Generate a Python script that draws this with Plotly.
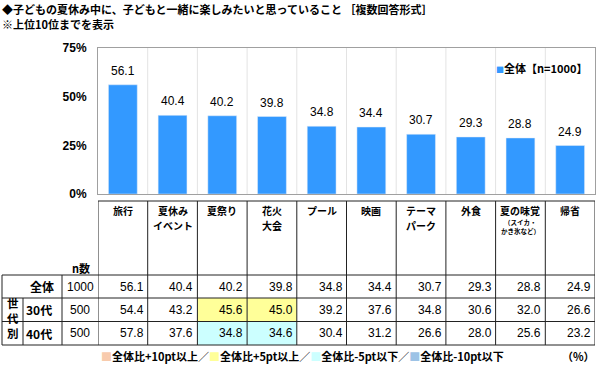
import plotly.graph_objects as go

# ---------------- data ----------------
categories = ["旅行", "夏休みイベント", "夏祭り", "花火大会", "プール", "映画",
              "テーマパーク", "外食", "夏の味覚", "帰省"]
header_labels = ["旅行", "夏休み<br>イベント", "夏祭り", "花火<br>大会", "プール", "映画",
                 "テーマ<br>パーク", "外食", "夏の味覚", "帰省"]
header_sub = ["", "", "", "", "", "", "", "", "（スイカ・<br>かき氷など）", ""]
overall = [56.1, 40.4, 40.2, 39.8, 34.8, 34.4, 30.7, 29.3, 28.8, 24.9]
age30 = [54.4, 43.2, 45.6, 45.0, 39.2, 37.6, 34.8, 30.6, 32.0, 26.6]
age40 = [57.8, 37.6, 34.8, 34.6, 30.4, 31.2, 26.6, 28.0, 25.6, 23.2]
row_names = ["全体", "30代", "40代"]
row_n = [1000, 500, 500]
y_ticks = [0, 25, 50, 75]
y_tick_text = ["0%", "25%", "50%", "75%"]
series_name = "全体【n=1000】"
title1 = "◆子どもの夏休み中に、子どもと一緒に楽しみたいと思っていること ［複数回答形式］"
title2 = "※上位10位までを表示"

# ---------------- styling ----------------
W, H = 600, 366
BAR = "#3399FF"
C_P10 = "#F8CBAD"
C_P5 = "#FFFF99"
C_M5 = "#CCFFFF"
C_M10 = "#9DC3E6"
FONT = "Liberation Sans, Arial, Noto Sans CJK JP, sans-serif"
JFONT = "Noto Sans CJK JP, Liberation Sans, sans-serif"


def px(x):
    return x / W


def py(y):
    return 1 - y / H


def txt(x, y, text, size, family=JFONT, bold=True, xanchor="center", xref="paper",
        yref="paper", xshift=0):
    f = dict(family=family, size=size, color="#000")
    if bold:
        f["weight"] = "bold"
    return dict(xref=xref, yref=yref, x=x, y=y, text=text, showarrow=False,
                xanchor=xanchor, yanchor="middle", xshift=xshift, borderpad=0, font=f)


fig = go.Figure()
fig.add_trace(go.Bar(x=categories, y=overall, marker_color=BAR, name=series_name,
                     showlegend=False, hoverinfo="x+y"))

n = len(categories)
shapes = []
ann = []

# vertical separators inside plot
for i in range(n - 1):
    shapes.append(dict(type="line", xref="x", yref="y", x0=i + 0.5, x1=i + 0.5, y0=0, y1=75,
                       line=dict(color="#E3E3E3", width=1), layer="below"))

# value labels above bars
for i, v in enumerate(overall):
    ann.append(dict(xref="x", yref="y", x=i, y=v, text=f"{v:.1f}", showarrow=False,
                    xanchor="center", yanchor="bottom", yshift=5,
                    font=dict(family=FONT, size=12, color="#000")))

# ---------------- table ----------------
T_HEAD = 201
ROW_Y = [275, 298, 321.5, 345]
LINE = dict(color="#222", width=1)

shapes.append(dict(type="line", xref="paper", yref="paper", x0=px(98), x1=px(595),
                   y0=py(T_HEAD), y1=py(T_HEAD), line=LINE))
for i in range(n + 1):
    shapes.append(dict(type="line", xref="x", yref="paper", x0=i - 0.5, x1=i - 0.5,
                       y0=py(T_HEAD), y1=py(ROW_Y[-1]), line=LINE))
for yy in ROW_Y:
    shapes.append(dict(type="line", xref="paper", yref="paper", x0=px(2), x1=px(595),
                       y0=py(yy), y1=py(yy), line=LINE))
shapes.append(dict(type="line", xref="paper", yref="paper", x0=px(2), x1=px(2),
                   y0=py(ROW_Y[0]), y1=py(ROW_Y[-1]), line=LINE))
shapes.append(dict(type="line", xref="paper", yref="paper", x0=px(62), x1=px(62),
                   y0=py(ROW_Y[0]), y1=py(ROW_Y[-1]), line=LINE))
shapes.append(dict(type="line", xref="paper", yref="paper", x0=px(23), x1=px(23),
                   y0=py(ROW_Y[1]), y1=py(ROW_Y[-1]), line=LINE))

# highlight cells (rule from legend: difference vs overall)
rows = [overall, age30, age40]
for r in (1, 2):
    for i in range(n):
        d = rows[r][i] - overall[i]
        col = None
        if d >= 10:
            col = C_P10
        elif d >= 5:
            col = C_P5
        elif d <= -10:
            col = C_M10
        elif d <= -5:
            col = C_M5
        if col:
            shapes.append(dict(type="rect", xref="x", yref="paper", x0=i - 0.5, x1=i + 0.5,
                               y0=py(ROW_Y[r + 1]), y1=py(ROW_Y[r]), fillcolor=col,
                               line=dict(width=0), layer="below"))

# header labels (each line placed separately)
HEAD_LINES = [210, 225]
SUB_LINES = [222.5, 231]
for i in range(n):
    for k, part in enumerate(header_labels[i].split("<br>")):
        ann.append(txt(i, py(HEAD_LINES[k]), part, 10, xref="x"))
    if header_sub[i]:
        for k, part in enumerate(header_sub[i].split("<br>")):
            ann.append(txt(i, py(SUB_LINES[k]), part, 6.5, xref="x"))

ann.append(txt(px(81), py(268), "n数", 11))

# row labels and values
for r in range(3):
    yc = (ROW_Y[r] + ROW_Y[r + 1]) / 2
    lx = 42 if r == 0 else 39
    ann.append(txt(px(lx), py(yc), row_names[r], 12))
    ann.append(txt(px(80), py(yc), str(row_n[r]), 12, family=FONT, bold=False))
    for i in range(n):
        ann.append(txt(i + 0.5, py(yc), f"{rows[r][i]:.1f}", 12, family=FONT, bold=False,
                       xanchor="right", xref="x", xshift=-3))

# vertical group label
for k, ch in enumerate("世代別"):
    ann.append(txt(px(12.5), py(302.5 + 15 * k), ch, 11.5))

# series legend (top right)
ann.append(txt(px(495), py(68), f"<span style='color:{BAR};font-size:8px'>■</span>{series_name}",
               11, xanchor="left"))

# bottom legend
leg = (f"<span style='color:{C_P10}'>■</span>全体比+10pt以上／"
       f"<span style='color:{C_P5}'>■</span>全体比+5pt以上／"
       f"<span style='color:{C_M5}'>■</span>全体比-5pt以下／"
       f"<span style='color:{C_M10}'>■</span>全体比-10pt以下")
ann.append(txt(px(100), py(356), leg, 11, xanchor="left"))
ann.append(txt(px(596), py(356), "（%）", 11, xanchor="right"))

# titles
ann.append(txt(px(1), py(9), title1, 11, xanchor="left"))
ann.append(txt(px(1), py(24), title2, 11, xanchor="left"))

fig.update_layout(
    width=W, height=H, margin=dict(l=0, r=0, t=0, b=0, autoexpand=False),
    paper_bgcolor="white", plot_bgcolor="white",
    bargap=0.42, showlegend=False,
    shapes=shapes, annotations=ann,
    font=dict(family=FONT, color="#000"),
    xaxis=dict(domain=[px(98), px(595)], range=[-0.5, n - 0.5], showticklabels=False,
               showgrid=False, zeroline=False, showline=True, linecolor="#A0A0A0",
               mirror=True, ticks="", fixedrange=True, automargin=False),
    yaxis=dict(domain=[py(194), py(48)], range=[0, 75], tickmode="array", tickvals=y_ticks,
               ticktext=y_tick_text, showgrid=False, zeroline=False, showline=True,
               linecolor="#A0A0A0", mirror=True, ticks="", ticklabelstandoff=8,
               tickfont=dict(family=FONT, size=12, color="#000", weight="bold"),
               fixedrange=True, automargin=False),
)

fig.write_html("out.html", config={"displayModeBar": False},
               post_script="document.body.style.margin='0';document.body.style.overflow='hidden';")
